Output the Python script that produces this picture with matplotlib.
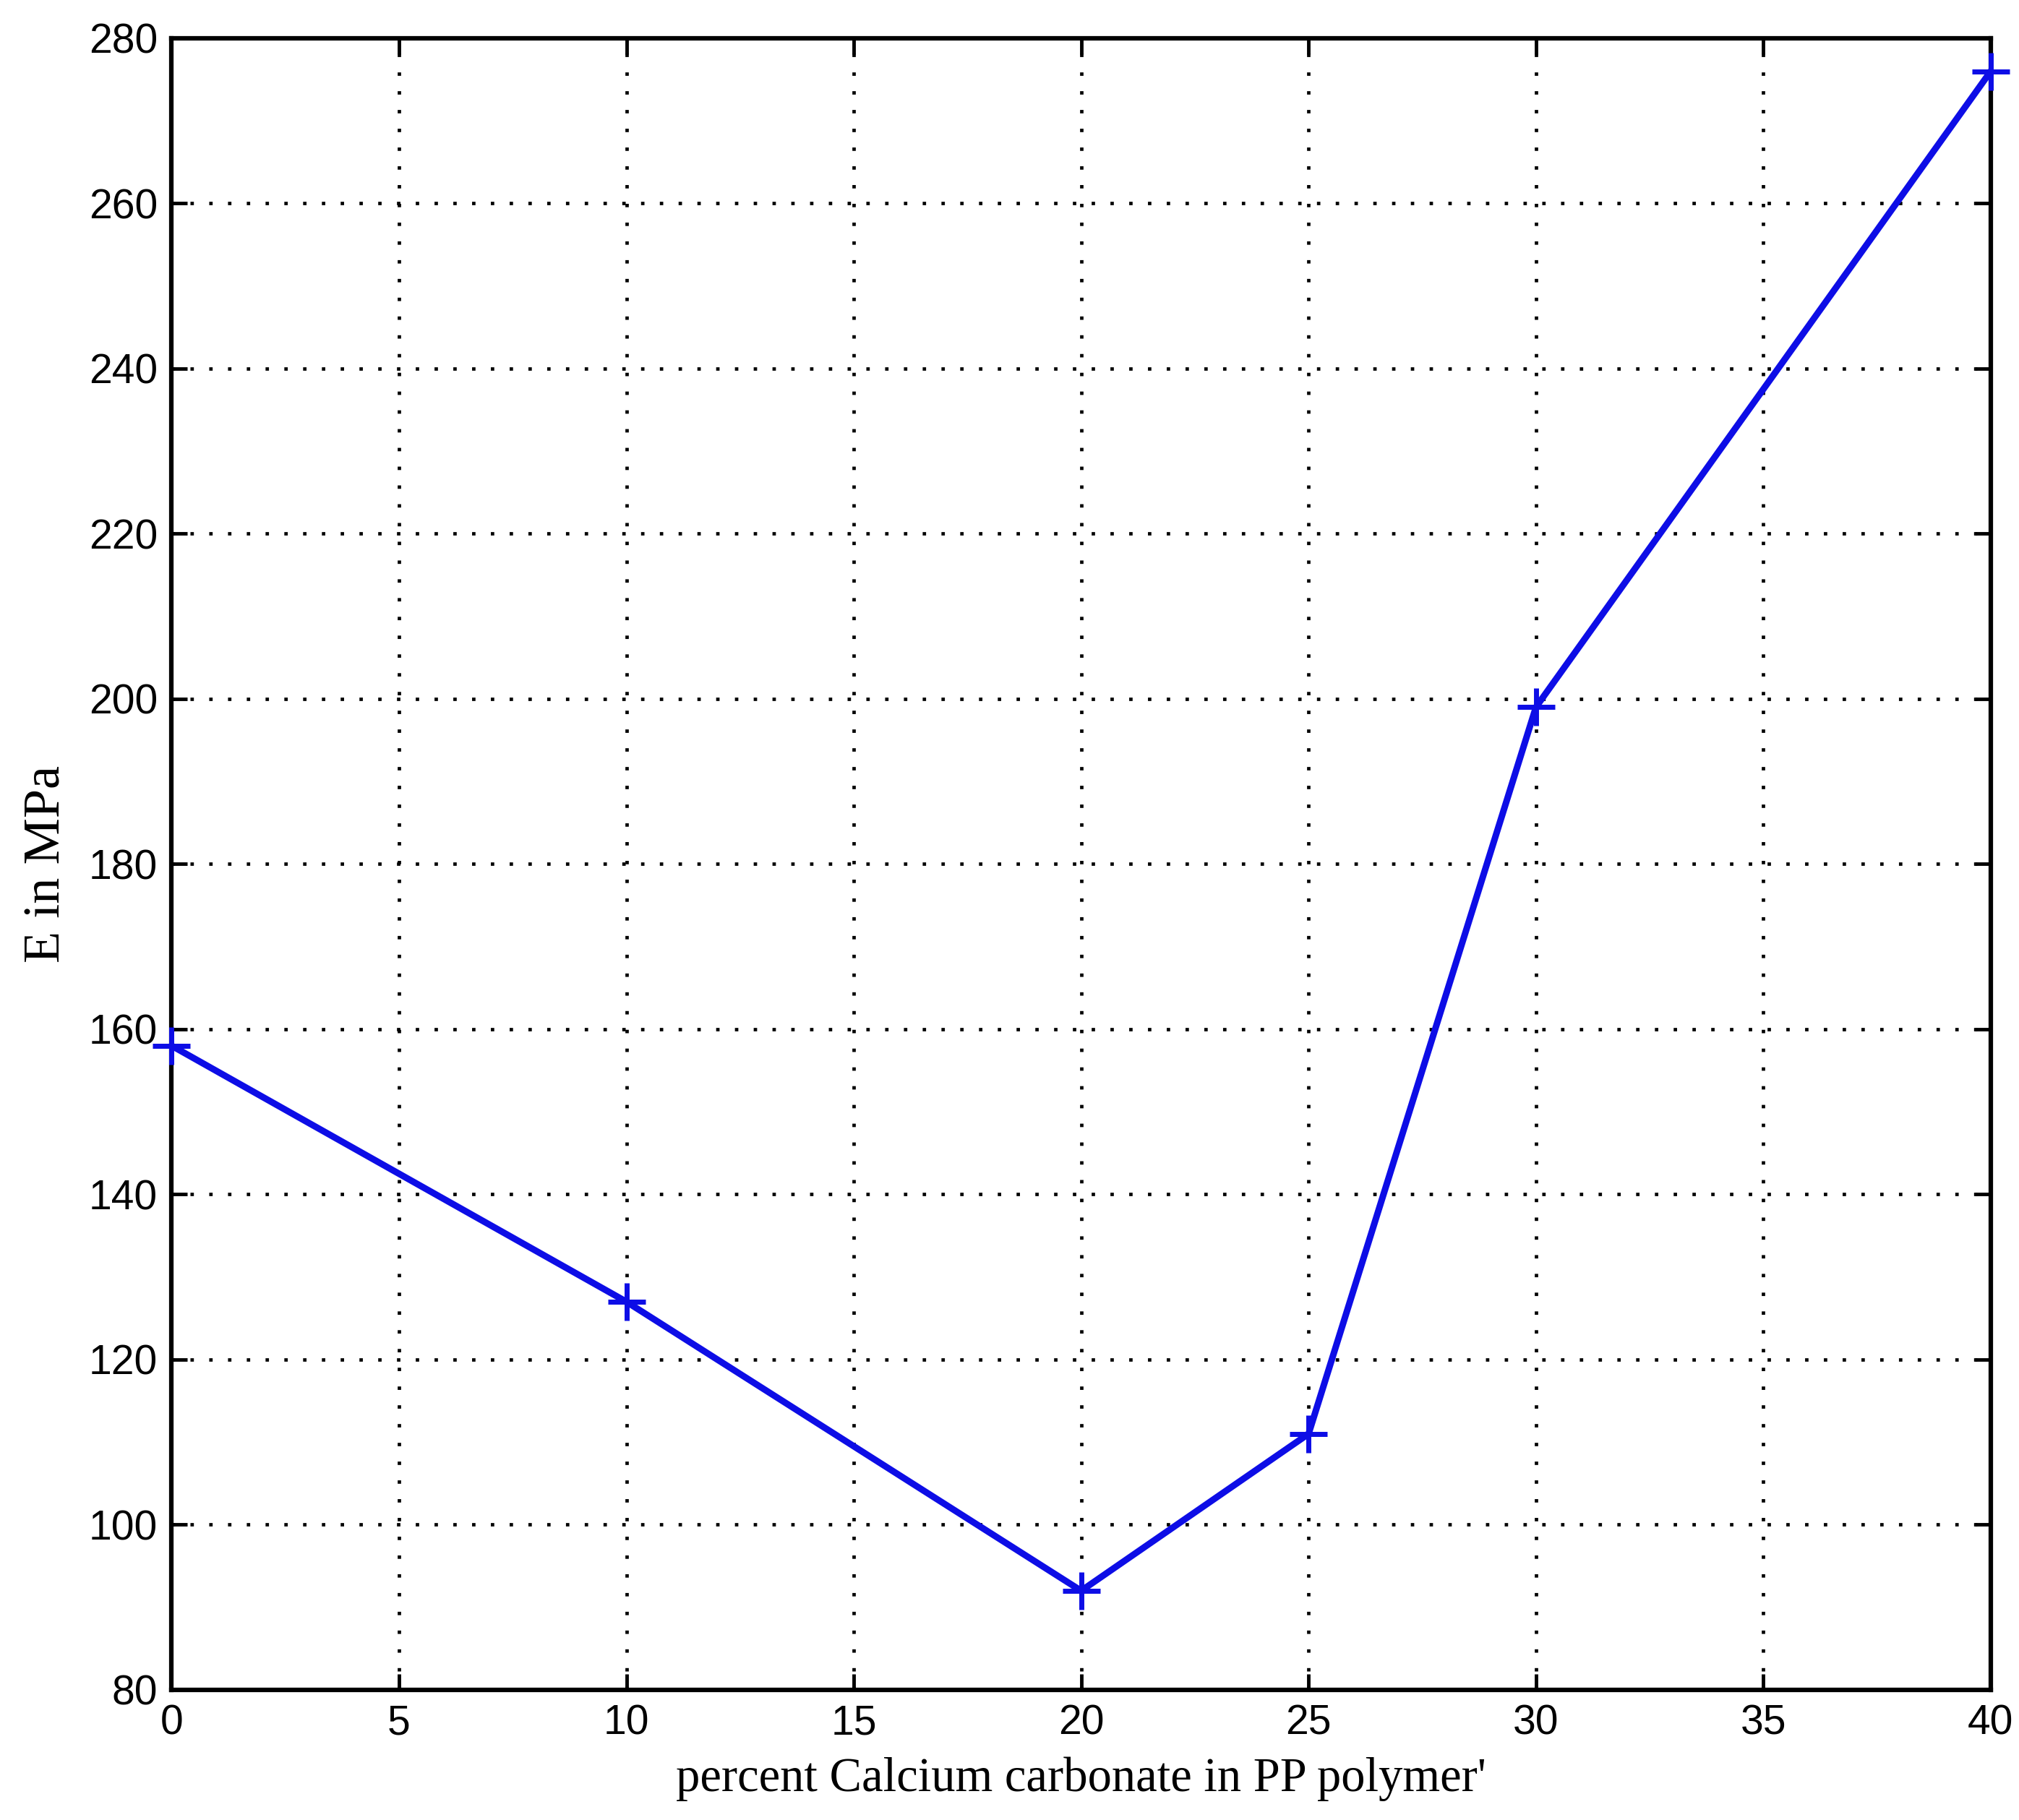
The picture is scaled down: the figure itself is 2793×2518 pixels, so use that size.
import matplotlib
matplotlib.use("Agg")
import matplotlib.pyplot as plt
import numpy as np

# percent CaCO3 vs Young's modulus
caco3_pct = [0, 10, 20, 25, 30, 40]
modulus_mpa = [158, 127, 92, 111, 199, 276]
x_ticks = [0, 5, 10, 15, 20, 25, 30, 35, 40]
y_ticks = [80, 100, 120, 140, 160, 180, 200, 220, 240, 260, 280]

fig = plt.figure(figsize=(27.93, 25.18), dpi=100)
ax = fig.add_axes([0.085, 0.0715, 0.901, 0.9075])

ax.plot(caco3_pct, modulus_mpa, color=(0.05, 0.05, 0.9), linewidth=6.5,
        marker='+', markersize=38, markeredgewidth=5, clip_on=False, zorder=3)

ax.set_xlim(0, 40)
ax.set_ylim(80, 280)
ax.set_xticks(x_ticks)
ax.set_yticks(y_ticks)

ax.grid(True, color='black', linestyle=(0, (1, 4.5)), linewidth=3.4)
ax.tick_params(direction='in', length=16, width=3.5, top=True, right=True,
               labelsize=41, pad=14)
for lbl in ax.get_xticklabels() + ax.get_yticklabels():
    lbl.set_family('Liberation Sans')
for sp in ax.spines.values():
    sp.set_linewidth(4.5)

ax.set_xlabel("percent Calcium carbonate in PP polymer'", family='Liberation Serif',
              fontsize=48, labelpad=14)
ax.set_ylabel("E in MPa", family='Liberation Serif', fontsize=52, labelpad=18)

fig.savefig("out.png", dpi=100)
